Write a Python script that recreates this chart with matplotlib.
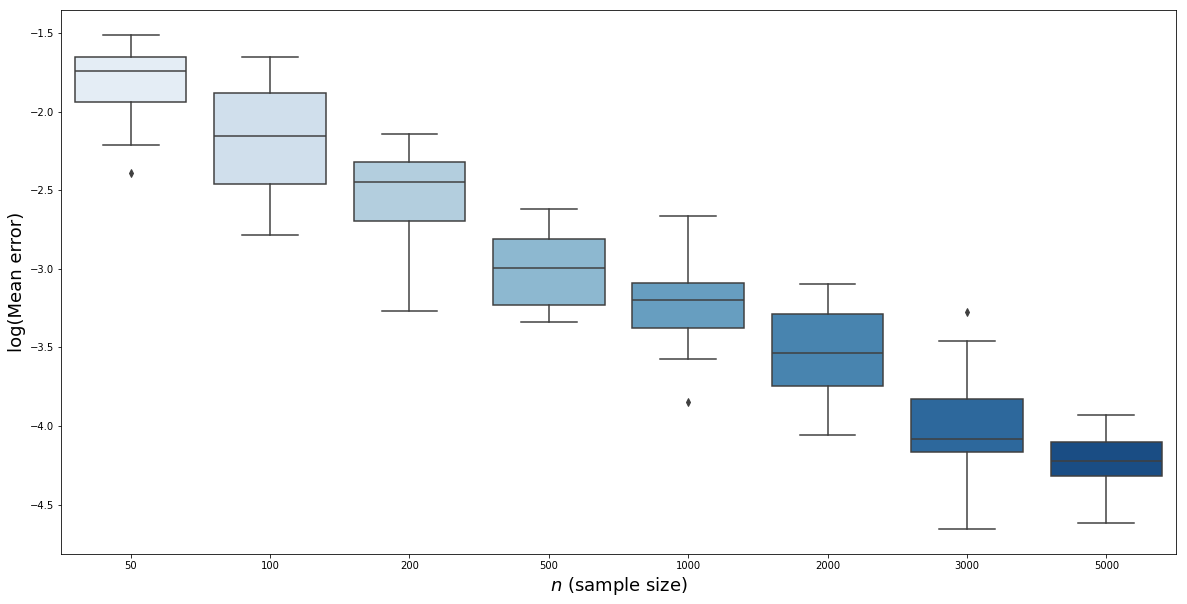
import numpy as np
import matplotlib
matplotlib.use("Agg")
import matplotlib.pyplot as plt
import seaborn as sns

# sample sizes and box statistics (log of mean error)
sizes = ['50', '100', '200', '500', '1000', '2000', '3000', '5000']
whislo = [-2.212, -2.785, -3.268, -3.340, -3.574, -4.055, -4.653, -4.620]
q1 = [-1.939, -2.461, -2.696, -3.230, -3.377, -3.746, -4.165, -4.318]
med = [-1.742, -2.155, -2.448, -2.995, -3.198, -3.534, -4.081, -4.223]
q3 = [-1.653, -1.882, -2.321, -2.810, -3.090, -3.286, -3.826, -4.102]
whishi = [-1.511, -1.653, -2.142, -2.620, -2.664, -3.095, -3.459, -3.930]
fliers = [[-2.391], [], [], [], [-3.845], [], [-3.273], []]

stats = []
for i in range(len(sizes)):
    stats.append(dict(label=sizes[i], whislo=whislo[i], q1=q1[i], med=med[i],
                      q3=q3[i], whishi=whishi[i], fliers=fliers[i]))

colors = [sns.desaturate(c, 0.75) for c in sns.color_palette("Blues", len(sizes))]
gray = '#3f3f3f'

fig = plt.figure(figsize=(1187/72, 604/72), dpi=72)
ax = fig.add_axes([61/1187, 1-554/604, (1176-61)/1187, (554-10)/604])

pos = np.arange(len(sizes))
bp = ax.bxp(stats, positions=pos, widths=0.8, patch_artist=True,
            boxprops=dict(edgecolor=gray, linewidth=1.5),
            whiskerprops=dict(color=gray, linewidth=1.5),
            capprops=dict(color=gray, linewidth=1.5),
            medianprops=dict(color=gray, linewidth=1.5),
            flierprops=dict(marker='d', markerfacecolor=gray, markeredgecolor=gray,
                            markersize=5))
for patch, c in zip(bp['boxes'], colors):
    patch.set_facecolor(c)

ax.set_xlim(-0.5, len(sizes) - 0.5)
ax.set_ylim(-4.814, -1.354)
ax.set_xticks(pos)
ax.set_xticklabels(sizes)
ax.tick_params(labelsize=10)
ax.set_xlabel(r'$n$ (sample size)', fontsize=18)
ax.set_ylabel('log(Mean error)', fontsize=18)

fig.savefig('out.png', dpi=72)
